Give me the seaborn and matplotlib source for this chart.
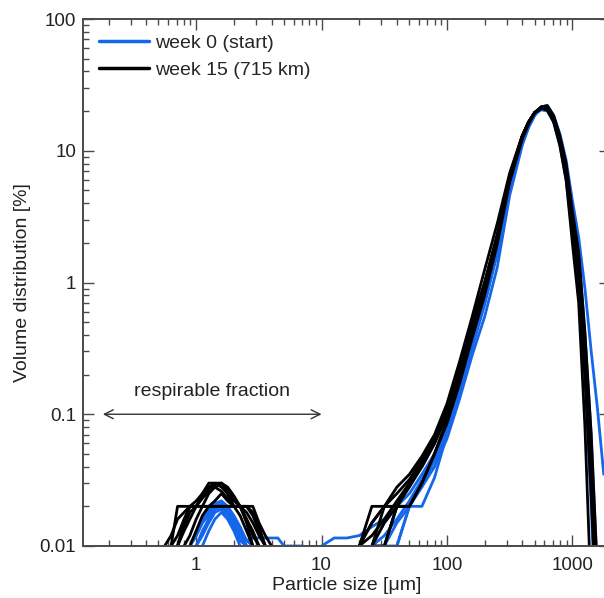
import numpy as np
import pandas as pd
import matplotlib
matplotlib.use("Agg")
import matplotlib.pyplot as plt
from matplotlib.lines import Line2D
from matplotlib.ticker import FuncFormatter, NullFormatter, LogLocator
import seaborn as sns

# ---------------- data ----------------
# size grid for the fine (respirable) mode, µm
sizes_fine = [0.56, 0.63, 0.71, 0.80, 0.89, 1.00, 1.12, 1.26, 1.41, 1.59, 1.78, 2.00,
              2.24, 2.52, 2.83, 3.17, 3.56, 3.99, 4.48, 5.02, 5.64, 6.32, 7.10]
# size grid for the coarse (main) mode, µm
sizes_main = [10.0, 12.6, 15.9, 20.0, 25.2, 31.7, 39.9, 50.2, 63.2, 79.6, 100, 126, 159,
              200, 252, 317, 399, 448, 502, 564, 632, 710, 796, 893, 1002, 1125, 1262,
              1416, 1589, 1783]

# week 0 (start) – blue runs, volume distribution [%]
w0_fine = [
    [0, 0, 0, 0, 0.01, 0.012, 0.015, 0.018, 0.02, 0.021, 0.02, 0.016, 0.013, 0.011, 0.0115, 0.0115, 0.0115, 0.0115, 0.0115, 0.01, 0.01, 0.01, 0.01],
    [0, 0, 0, 0, 0, 0.01, 0.013, 0.016, 0.019, 0.02, 0.018, 0.015, 0.012, 0.01, 0, 0, 0, 0, 0, 0, 0, 0, 0],
    [0, 0, 0, 0, 0.01, 0.012, 0.015, 0.017, 0.019, 0.02, 0.019, 0.016, 0.013, 0.01, 0, 0, 0, 0, 0, 0, 0, 0, 0],
    [0, 0, 0, 0, 0, 0.01, 0.012, 0.015, 0.018, 0.019, 0.017, 0.014, 0.011, 0.01, 0, 0, 0, 0, 0, 0, 0, 0, 0],
    [0, 0, 0, 0, 0, 0, 0.01, 0.013, 0.016, 0.018, 0.016, 0.013, 0.01, 0, 0, 0, 0, 0, 0, 0, 0, 0, 0],
    [0, 0, 0, 0, 0, 0.01, 0.01, 0.01, 0.01, 0.01, 0.01, 0.01, 0.01, 0, 0, 0, 0, 0, 0, 0, 0, 0, 0],
    [0, 0, 0, 0, 0.01, 0.013, 0.016, 0.019, 0.021, 0.022, 0.02, 0.017, 0.014, 0.011, 0.01, 0, 0, 0, 0, 0, 0, 0, 0],
]
w0_main = [
    [0.01, 0.0115, 0.0115, 0.012, 0.014, 0.016, 0.02, 0.02, 0.02, 0.033, 0.07, 0.15, 0.34, 0.72, 1.7, 5.0, 11.5, 15, 18.5, 21, 21.5, 18, 12.5, 7.5, 3.2, 1.5, 0.35, 0.05, 0.004, 0.0005],
    [0, 0, 0, 0, 0.01, 0.01, 0.02, 0.02, 0.03, 0.045, 0.08, 0.16, 0.36, 0.75, 1.8, 5.5, 12, 15.5, 19, 21, 21, 17.5, 12, 7, 2.8, 1.3, 0.28, 0.035, 0.003, 0.0004],
    [0, 0, 0, 0, 0, 0.01, 0.01, 0.02, 0.03, 0.04, 0.065, 0.13, 0.28, 0.55, 1.3, 4.6, 11, 15, 19, 21.5, 22, 18.5, 13.5, 8.5, 4.2, 2.2, 0.9, 0.3, 0.11, 0.035],
    [0, 0, 0, 0, 0.01, 0.015, 0.02, 0.025, 0.035, 0.05, 0.085, 0.18, 0.4, 0.8, 1.9, 5.8, 12.5, 16, 19, 20.5, 20.5, 17, 11.5, 6.5, 2.6, 1.15, 0.22, 0.025, 0.002, 0.0003],
    [0, 0, 0, 0, 0, 0, 0.01, 0.02, 0.03, 0.045, 0.075, 0.15, 0.33, 0.7, 1.7, 5.3, 12, 15.5, 19, 21, 21.5, 18, 12.5, 7.2, 3.0, 1.4, 0.3, 0.04, 0.003, 0.0004],
    [0, 0, 0, 0, 0.01, 0.012, 0.016, 0.022, 0.032, 0.05, 0.09, 0.19, 0.42, 0.85, 2.0, 6.0, 12.5, 16, 19, 20.5, 20, 16.5, 11, 6, 2.3, 1.0, 0.18, 0.02, 0.0015, 0.0002],
    [0, 0, 0, 0, 0, 0.01, 0.015, 0.02, 0.028, 0.04, 0.07, 0.14, 0.32, 0.68, 1.65, 5.2, 11.8, 15.5, 19, 21.5, 22, 18.5, 13, 7.8, 3.4, 1.7, 0.4, 0.07, 0.006, 0.0008],
]

# week 15 (715 km) – black runs
w15_fine = [
    [0, 0.01, 0.02, 0.02, 0.02, 0.02, 0.02, 0.02, 0.02, 0.02, 0.02, 0.02, 0.02, 0.02, 0.02, 0.015, 0.012, 0.01, 0, 0, 0, 0, 0],
    [0, 0, 0.01, 0.015, 0.02, 0.02, 0.025, 0.03, 0.03, 0.03, 0.025, 0.02, 0.02, 0.015, 0.01, 0, 0, 0, 0, 0, 0, 0, 0],
    [0.01, 0.012, 0.016, 0.018, 0.02, 0.022, 0.025, 0.028, 0.03, 0.028, 0.025, 0.022, 0.02, 0.018, 0.015, 0.012, 0.01, 0, 0, 0, 0, 0, 0],
    [0, 0, 0.01, 0.014, 0.018, 0.02, 0.024, 0.027, 0.029, 0.03, 0.027, 0.023, 0.02, 0.016, 0.012, 0.01, 0, 0, 0, 0, 0, 0, 0],
    [0, 0.01, 0.012, 0.016, 0.02, 0.02, 0.02, 0.02, 0.02, 0.02, 0.02, 0.02, 0.02, 0.02, 0.018, 0.014, 0.01, 0, 0, 0, 0, 0, 0],
    [0, 0, 0, 0.01, 0.012, 0.016, 0.02, 0.025, 0.028, 0.03, 0.028, 0.024, 0.02, 0.016, 0.013, 0.01, 0, 0, 0, 0, 0, 0, 0],
    [0, 0, 0, 0, 0.01, 0.013, 0.017, 0.02, 0.022, 0.025, 0.022, 0.02, 0.017, 0.013, 0.01, 0, 0, 0, 0, 0, 0, 0, 0],
    [0, 0, 0.01, 0.013, 0.016, 0.02, 0.023, 0.026, 0.028, 0.026, 0.023, 0.02, 0.02, 0.02, 0.017, 0.013, 0.01, 0, 0, 0, 0, 0, 0],
]
w15_main = [
    [0, 0, 0, 0.01, 0.015, 0.02, 0.025, 0.032, 0.045, 0.065, 0.11, 0.23, 0.5, 1.0, 2.3, 6.5, 13, 16.5, 19.5, 21, 20.5, 17, 11.5, 6.5, 2.6, 1.1, 0.2, 0.025, 0.002, 0.0003],
    [0, 0, 0, 0.01, 0.02, 0.02, 0.02, 0.03, 0.04, 0.06, 0.1, 0.21, 0.46, 0.95, 2.2, 6.2, 12.8, 16.5, 19.5, 21, 21, 17.5, 12, 7, 2.9, 1.3, 0.27, 0.035, 0.003, 0.0004],
    [0, 0, 0, 0, 0.01, 0.02, 0.02, 0.03, 0.042, 0.062, 0.1, 0.2, 0.44, 0.9, 2.1, 6.0, 12.5, 16, 19.5, 21.5, 21.5, 18, 12.5, 7.5, 3.2, 1.5, 0.33, 0.045, 0.004, 0.0005],
    [0, 0, 0, 0.01, 0.012, 0.016, 0.022, 0.03, 0.043, 0.065, 0.11, 0.22, 0.48, 1.0, 2.3, 6.4, 13, 16.5, 19.5, 21, 20.5, 16.5, 11, 6, 2.0, 0.7, 0.08, 0.004, 0.0004, 0.0001],
    [0, 0, 0, 0, 0.01, 0.01, 0.02, 0.02, 0.03, 0.05, 0.085, 0.17, 0.38, 0.8, 1.95, 5.8, 12.3, 16, 19.5, 21.5, 22, 18.5, 13, 8, 3.5, 1.7, 0.42, 0.07, 0.006, 0.0008],
    [0, 0, 0, 0, 0, 0.01, 0.02, 0.02, 0.03, 0.05, 0.09, 0.19, 0.42, 0.88, 2.1, 6.1, 12.7, 16.3, 19.5, 21, 21, 17.5, 12, 7, 2.8, 1.25, 0.25, 0.03, 0.0025, 0.0003],
    [0, 0, 0, 0, 0.01, 0.015, 0.02, 0.028, 0.04, 0.06, 0.1, 0.21, 0.45, 0.95, 2.2, 6.3, 12.8, 16.5, 19.5, 21, 20.8, 17.2, 11.8, 6.8, 2.7, 1.2, 0.24, 0.03, 0.0025, 0.0003],
    [0, 0, 0, 0.01, 0.015, 0.02, 0.028, 0.035, 0.048, 0.07, 0.12, 0.25, 0.55, 1.25, 2.8, 6.8, 13, 16.5, 19.5, 21, 20.5, 17, 11.5, 6.7, 2.8, 1.3, 0.3, 0.04, 0.003, 0.0004],
]

week_labels = ["week 0 (start)", "week 15 (715 km)"]
week_colors = ["#1466ea", "#000000"]
y_ticks = [0.01, 0.1, 1, 10, 100]
x_ticks = [1, 10, 100, 1000]


def to_long(grid, runs, label, tag):
    """Long table; each run split into segments wherever the value is zero."""
    rows = []
    for r, vals in enumerate(runs):
        seg = 0
        prev_pos = False
        for s, v in zip(grid, vals):
            if v > 0:
                if not prev_pos:
                    seg += 1
                rows.append({"size": s, "volume": v, "week": label,
                             "unit": f"{tag}-{r}-{seg}"})
                prev_pos = True
            else:
                prev_pos = False
    return pd.DataFrame(rows)


df0 = pd.concat([to_long(sizes_fine, w0_fine, week_labels[0], "f"),
                 to_long(sizes_main, w0_main, week_labels[0], "m")], ignore_index=True)
df15 = pd.concat([to_long(sizes_fine, w15_fine, week_labels[1], "f"),
                  to_long(sizes_main, w15_main, week_labels[1], "m")], ignore_index=True)

# ---------------- figure ----------------
sns.set_style("ticks")
plt.rcParams["font.family"] = ["Liberation Sans", "DejaVu Sans"]

fig = plt.figure(figsize=(6.04, 5.98), dpi=100)
ax = fig.add_axes([83 / 604, 1 - 546 / 598, 527 / 604, 527 / 598])

ax.set_xscale("log")
ax.set_yscale("log")

lw = 2.0
sns.lineplot(data=df0, x="size", y="volume", units="unit", estimator=None, sort=False,
             color=week_colors[0], linewidth=lw, ax=ax, legend=False)
sns.lineplot(data=df15, x="size", y="volume", units="unit", estimator=None, sort=False,
             color=week_colors[1], linewidth=lw, ax=ax, legend=False)

ax.set_xlim(0.125, 2000)
ax.set_ylim(0.01, 100)

fmt = FuncFormatter(lambda v, p: f"{v:g}")
ax.set_xticks(x_ticks)
ax.set_yticks(y_ticks)
ax.xaxis.set_major_formatter(fmt)
ax.yaxis.set_major_formatter(fmt)
ax.xaxis.set_minor_locator(LogLocator(base=10, subs=np.arange(2, 10), numticks=20))
ax.yaxis.set_minor_locator(LogLocator(base=10, subs=np.arange(2, 10), numticks=20))
ax.xaxis.set_minor_formatter(NullFormatter())
ax.yaxis.set_minor_formatter(NullFormatter())

spine_col = "#4a4a4a"
for side in ["left", "bottom", "top", "right"]:
    ax.spines[side].set_color(spine_col)
    ax.spines[side].set_linewidth(1.4)
ax.tick_params(which="both", direction="in", top=True, right=True, colors=spine_col,
               labelcolor="#222222")
ax.tick_params(which="major", length=8, width=1.0, labelsize=13.5)
ax.tick_params(which="minor", length=4, width=1.0)
ax.tick_params(axis="x", which="major", pad=8)
ax.tick_params(axis="y", which="major", pad=5)

ax.set_xlabel("Particle size [μm]", fontsize=14, color="#222222", labelpad=2)
ax.set_ylabel("Volume distribution [%]", fontsize=14, color="#222222", labelpad=6)

# respirable fraction annotation
ax.annotate("", xy=(0.18, 0.1), xytext=(10, 0.1),
            arrowprops=dict(arrowstyle="<->", lw=1.0, color="#333333",
                            shrinkA=0, shrinkB=0, mutation_scale=16))
ax.text(1.33, 0.128, "respirable fraction", fontsize=14, color="#222222",
        ha="center", va="bottom")

handles = [Line2D([0], [0], color=c, lw=2.5) for c in week_colors]
ax.legend(handles, week_labels, loc="upper left", bbox_to_anchor=(0.015, 0.986),
          frameon=False, fontsize=14, handlelength=2.6, handletextpad=0.3,
          labelspacing=0.5, borderaxespad=0)

fig.savefig("out.png", dpi=100)
